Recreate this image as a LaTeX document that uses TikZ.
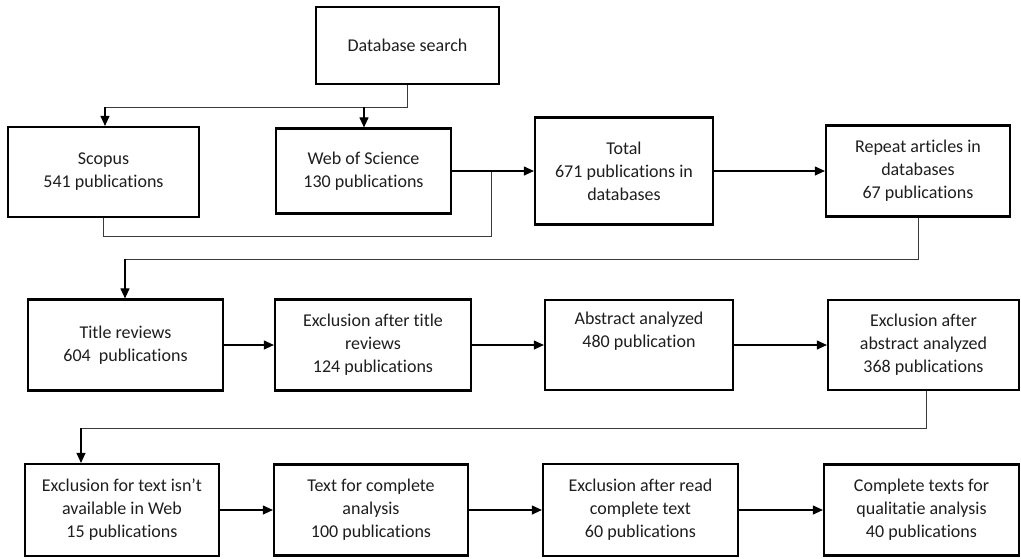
\documentclass[tikz,border=0pt]{standalone}
\usepackage{fontspec}
\setmainfont[Ligatures=NoCommon]{Carlito}
\usetikzlibrary{arrows.meta}
\definecolor{txt}{HTML}{1E1E1E}
\definecolor{lin}{HTML}{3A3A3A}
\begin{document}
\begin{tikzpicture}[x=1pt,y=-1pt,
  box/.style={draw=black,line width=2.2pt,rectangle,align=center,text=txt,
    font=\fontsize{18}{23}\selectfont,inner sep=2pt},
  arr/.style={draw=black,line width=1.1pt,-{Triangle[length=10pt,width=9pt]}},
  lnk/.style={draw=lin,line width=1pt}]
\useasboundingbox (0,0) rectangle (1021,558);
% row 0/1
\node[box,minimum width=183pt,minimum height=77pt] (db) at (407.5,45.5) {Database search};
\node[box,minimum width=191pt,minimum height=90pt] (scopus) at (103.5,172) {Scopus\\541 publications};
\node[box,minimum width=175pt,minimum height=85pt] (wos) at (363.5,171) {Web of Science\\130 publications};
\node[box,minimum width=178pt,minimum height=107pt] (total) at (624,171) {Total\\671 publications in\\databases};
\node[box,minimum width=184pt,minimum height=91pt] (repeat) at (918,171) {Repeat articles in\\databases\\67 publications};
% row 2
\node[box,minimum width=195pt,minimum height=91pt] (title) at (125.5,345) {Title reviews\\604~~publications};
\node[box,minimum width=196pt,minimum height=91pt] (excltitle) at (373,345) {Exclusion after title\\reviews\\124 publications};
\node[box,minimum width=188pt,minimum height=90pt] (abstract) at (639,345) {Abstract analyzed\\480 publication\\\strut};
\node[box,minimum width=191pt,minimum height=90pt] (exclabs) at (923.5,345) {Exclusion after\\abstract analyzed\\368 publications};
% row 3
\node[box,minimum width=194pt,minimum height=92pt] (excltext) at (122,510) {Exclusion for text isn't\\available in Web\\15 publications};
\node[box,minimum width=194pt,minimum height=91pt] (textcomp) at (371,510) {Text for complete\\analysis\\100 publications};
\node[box,minimum width=195pt,minimum height=92pt] (exclread) at (640.5,510) {Exclusion after read\\complete text\\60 publications};
\node[box,minimum width=195pt,minimum height=91pt] (complete) at (921.5,510) {Complete texts for\\qualitatie analysis\\40 publications};
% connectors top
\coordinate (d1) at (407,107);
\coordinate (d2) at (105,107);
\coordinate (d3) at (364,107);
\draw[lnk] (db.south -| d1) -- (d1) -- (d2);
\draw[arr] (d2) -- (d2 |- scopus.north);
\draw[arr] (d3) -- (d3 |- wos.north);
\coordinate (m) at (491,171);
\coordinate (m2) at (491,236);
\draw[lnk] (scopus.south) |- (m2) -- (m);
\draw[arr] (wos.east) -- (total.west);
\draw[arr] (total.east) -- (repeat.west);
\coordinate (r1) at (918,259);
\coordinate (t1) at (125,259);
\draw[lnk] (repeat.south) -- (r1) -- (t1);
\draw[arr] (t1) -- (t1 |- title.north);
% row 2
\draw[arr] (title.east) -- (excltitle.west);
\draw[arr] (excltitle.east) -- (abstract.west);
\draw[arr] (abstract.east) -- (exclabs.west);
\coordinate (e1) at (926,428);
\coordinate (e2) at (81,428);
\draw[lnk] (exclabs.south -| e1) -- (e1) -- (e2);
\draw[arr] (e2) -- (e2 |- excltext.north);
% row 3
\draw[arr] (excltext.east) -- (textcomp.west);
\draw[arr] (textcomp.east) -- (exclread.west);
\draw[arr] (exclread.east) -- (complete.west);
\end{tikzpicture}
\end{document}
